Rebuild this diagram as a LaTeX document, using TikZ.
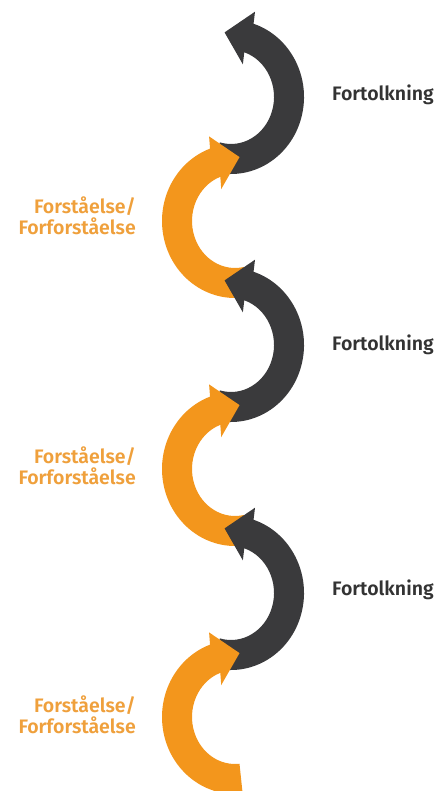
\documentclass[tikz,border=0pt]{standalone}
\usepackage{fontspec}
\setmainfont{Fira Sans}[UprightFont={* SemiBold}]
\usetikzlibrary{calc}
\definecolor{darkband}{HTML}{3A3A3C}
\definecolor{orangeband}{HTML}{F3961C}
\definecolor{orangetext}{HTML}{EFA03C}
\definecolor{darktext}{HTML}{333333}
% #1 centre, #2 tail angle, #3 head angle, #4 head direction, #5 colour, #6 outer barb angle, #7 inner barb angle
\newcommand\curvedarrow[7]{%
  \fill[#5] ($(#1)+(#2:73pt and 77pt)$) arc[start angle=#2, end angle=#3, x radius=73pt, y radius=77pt]
    -- ($(#1)+(#3:58pt and 62pt)+(#6:27pt)$)
    -- ($(#1)+(#3:58pt and 62pt)+(#4:25pt)$)
    -- ($(#1)+(#3:58pt and 62pt)+(#7:27pt)$)
    -- ($(#1)+(#3:43pt and 47pt)$) arc[start angle=#3, end angle=#2, x radius=43pt, y radius=47pt]
    -- cycle;}
\tikzset{
  lbl/.style={inner sep=0pt, font=\fontsize{19.5}{20.5}\selectfont},
  lbldark/.style={lbl, text=darktext, anchor=west},
  lblorange/.style={lbl, text=orangetext, anchor=east, align=right},
}
\begin{document}
\begin{tikzpicture}[x=1pt,y=1pt]
\useasboundingbox (0,0) rectangle (437,791);
\coordinate (d1) at (231,694);
\coordinate (o1) at (235,570);
\coordinate (d2) at (231,446);
\coordinate (o2) at (235,322);
\coordinate (d3) at (231,198);
\coordinate (o3) at (235,74);
\curvedarrow{d1}{-105}{72}{167}{darkband}{77}{257}
\curvedarrow{o1}{-78}{-250}{13}{orangeband}{103}{-77}
\curvedarrow{d2}{-105}{72}{167}{darkband}{77}{257}
\curvedarrow{o2}{-78}{-250}{13}{orangeband}{103}{-77}
\curvedarrow{d3}{-105}{72}{167}{darkband}{77}{257}
\curvedarrow{o3}{-84}{-250}{13}{orangeband}{103}{-77}
\node[lbldark] (f1) at (332,696) {Fortolkning};
\node[lbldark] (f2) at (332,446) {Fortolkning};
\node[lbldark] (f3) at (332,201) {Fortolkning};
\node[lblorange] (u1) at (136,575) {Forståelse/\\Forforståelse};
\node[lblorange] (u2) at (136,325) {Forståelse/\\Forforståelse};
\node[lblorange] (u3) at (136,76) {Forståelse/\\Forforståelse};
\end{tikzpicture}
\end{document}
